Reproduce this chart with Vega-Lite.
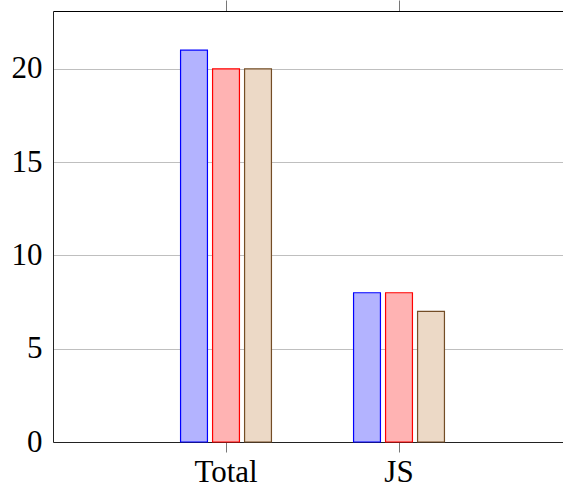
{
  "$schema": "https://vega.github.io/schema/vega-lite/v6.json",
  "width": 510,
  "height": 431,
  "autosize": {"type": "none"},
  "padding": {"left": 53, "top": 11, "right": 0, "bottom": 46},
  "background": "white",
  "config": {"view": {"stroke": null}},
  "data": {"values": [
    {"cat": "Total", "series": "A", "value": 21},
    {"cat": "Total", "series": "B", "value": 20},
    {"cat": "Total", "series": "C", "value": 20},
    {"cat": "JS", "series": "A", "value": 8},
    {"cat": "JS", "series": "B", "value": 8},
    {"cat": "JS", "series": "C", "value": 7}
  ]},
  "resolve": {"axis": {"x": "independent"}},
  "layer": [
    {
      "mark": {"type": "bar", "strokeWidth": 1.2},
      "encoding": {
        "x": {"field": "cat", "type": "nominal", "sort": ["Total", "JS"],
          "scale": {"paddingInner": 0.445, "paddingOuter": 0.6965, "align": 0.5187},
          "axis": {"title": null, "orient": "bottom", "labelAngle": 0, "domainColor": "#222", "domainWidth": 1,
            "tickSize": 10, "tickColor": "#777", "tickWidth": 1, "labelFont": "Liberation Serif", "labelFontSize": 31,
            "labelColor": "black", "labelPadding": 5, "grid": false}},
        "xOffset": {"field": "series", "type": "nominal", "sort": ["A", "B", "C"],
          "scale": {"paddingInner": 0.16, "paddingOuter": 0.08}},
        "y": {"field": "value", "type": "quantitative",
          "scale": {"domain": [0, 23.1], "nice": false, "zero": true},
          "axis": {"title": null, "values": [0, 5, 10, 15, 20], "ticks": false, "grid": true, "gridColor": "#bfbfbf", "gridWidth": 1,
            "domainColor": "#222", "domainWidth": 1, "labelFont": "Liberation Serif", "labelFontSize": 31,
            "labelColor": "black", "labelPadding": 11}},
        "fill": {"field": "series", "type": "nominal", "legend": null,
          "scale": {"domain": ["A", "B", "C"], "range": ["#b3b3ff", "#ffb3b3", "#ecd9c6"]}},
        "stroke": {"field": "series", "type": "nominal", "legend": null,
          "scale": {"domain": ["A", "B", "C"], "range": ["#0000ff", "#ff0000", "#734d26"]}}
      }
    },
    {
      "mark": {"type": "bar", "opacity": 0},
      "encoding": {
        "x": {"field": "cat", "type": "nominal", "sort": ["Total", "JS"],
          "axis": {"title": null, "orient": "top", "labels": false, "domainColor": "black", "domainWidth": 1.2,
            "tickSize": 11, "tickColor": "#777", "tickWidth": 1, "grid": false}}
      }
    }
  ]
}
